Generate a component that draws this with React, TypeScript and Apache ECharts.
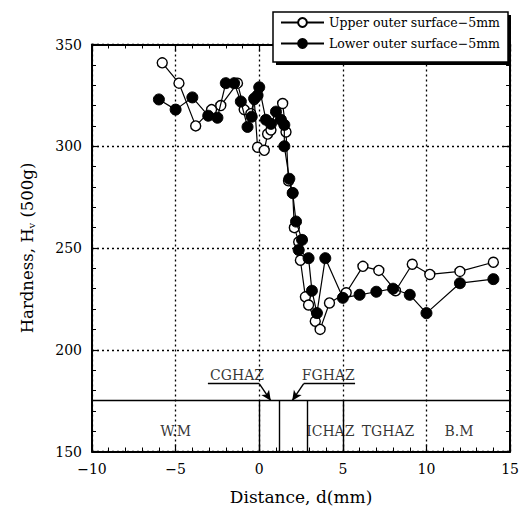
import React, { useEffect, useRef } from "react";
import * as echarts from "echarts";

// Upper outer surface - 5mm (open circles)
const upperDistance = [-5.8, -4.8, -3.8, -2.85, -2.3, -1.3, -0.9, -0.5, -0.3, -0.1, 0.3, 0.5, 0.7, 1.4, 1.6, 1.75, 2.0, 2.1, 2.36, 2.46, 2.76, 2.95, 3.35, 3.64, 4.2, 5.2, 6.2, 7.15, 8.15, 9.15, 10.2, 12.0, 14.0];
const upperHardness = [341, 331, 310, 318, 320, 331, 318, 316, 323, 299.5, 298, 306, 308, 321, 307, 283, 277, 260, 253, 244, 226, 222, 214, 210, 223, 228, 241, 239, 229, 242, 237, 238.5, 243];

// Lower outer surface - 5mm (filled circles)
const lowerDistance = [-6.0, -5.0, -4.0, -3.05, -2.5, -2.0, -1.5, -1.1, -0.7, -0.45, -0.3, -0.1, 0.0, 0.4, 0.7, 1.0, 1.3, 1.5, 1.5, 1.8, 2.0, 2.2, 2.56, 2.36, 2.95, 3.15, 3.45, 3.95, 5.0, 6.0, 7.0, 8.0, 9.0, 10.0, 12.0, 14.0];
const lowerHardness = [323, 318, 324, 315, 314, 331, 331, 322, 309.5, 314.5, 323.5, 325, 329, 313, 311, 317, 313, 310.5, 300, 284, 277, 263, 254, 249, 245, 229, 218, 245, 225.5, 227, 228.5, 230, 227, 218, 232.7, 234.7];

// Zone annotations (weld regions)
const zoneLevel = 175;
const zoneBoundaries = [0, 1.2, 2.9, 5];
const zoneNames = ["W.M", "ICHAZ", "TGHAZ", "B.M"];
const zoneLabelX = [-5, 4.25, 7.7, 11.95];
const zoneLabelY = 160.3;

const calloutNames = ["CGHAZ", "FGHAZ"];
const calloutTextX = [-1.33, 4.13];
const calloutTextY = 187.8;
const calloutLineY = 183.4;
const calloutLineStart = [-3.07, 5.73];
const calloutLineEnd = [0, 2.66];
const calloutArrowTip = [0.69, 1.97];

const legendNames = ["Upper outer surface\u22125mm", "Lower outer surface\u22125mm"];

const FONT = "DejaVu Serif";

export default function App() {
  const ref = useRef<HTMLDivElement>(null);

  useEffect(() => {
    const chart = echarts.init(ref.current!, null, { renderer: "svg" });

    const zip = (xs: number[], ys: number[]) => xs.map((x, i) => [x, ys[i]]);
    const minusFmt = (v: number) => String(v).replace("-", "\u2212");

    const markLines: any[] = [
      [{ coord: [-10, zoneLevel] }, { coord: [15, zoneLevel] }],
      ...zoneBoundaries.map((b) => [{ coord: [b, 150] }, { coord: [b, zoneLevel] }]),
    ];
    calloutNames.forEach((_, i) => {
      markLines.push([
        { coord: [calloutLineStart[i], calloutLineY] },
        { coord: [calloutLineEnd[i], calloutLineY] },
      ]);
      markLines.push([
        { coord: [calloutLineEnd[i], calloutLineY], symbol: "none" },
        { coord: [calloutArrowTip[i], zoneLevel], symbol: "arrow", symbolSize: [7, 10] },
      ]);
    });

    const axisCommon = {
      min: -10,
      max: 15,
      interval: 5,
    };

    const option: any = {
      animation: false,
      backgroundColor: "#fff",
      grid: { left: 92, right: 6, top: 44.5, bottom: 64.5, containLabel: false },
      graphic: [
        {
          type: "rect",
          z: 18,
          shape: { x: 276, y: 15, width: 235, height: 50 },
          style: { fill: "#000" },
        },
        {
          type: "rect",
          z: 19,
          shape: { x: 273, y: 12, width: 235, height: 50 },
          style: { fill: "#fff", stroke: "#000", lineWidth: 1.5 },
        },
      ],
      legend: {
        orient: "vertical",
        left: 280,
        top: 16,
        z: 20,
        padding: 0,
        itemGap: 8,
        itemWidth: 43,
        itemHeight: 11,
        textStyle: { fontFamily: FONT, fontSize: 12.5, color: "#000" },
        data: legendNames,
      },
      xAxis: [
        {
          type: "value",
          ...axisCommon,
          position: "bottom",
          name: "Distance, d(mm)",
          nameLocation: "middle",
          nameGap: 37,
          nameTextStyle: { fontFamily: FONT, fontSize: 17, color: "#000" },
          axisLine: { show: true, onZero: false, lineStyle: { color: "#000", width: 2 } },
          axisTick: { show: true, inside: true, length: 7, lineStyle: { color: "#000", width: 1.2 } },
          minorTick: { show: true, splitNumber: 5, length: 4, lineStyle: { color: "#000", width: 1 } },
          axisLabel: {
            fontFamily: FONT,
            fontSize: 14,
            color: "#000",
            margin: 10,
            formatter: minusFmt,
          },
          splitLine: { show: true, lineStyle: { color: "#000", width: 1.3, type: [2, 3] } },
        },
        {
          type: "value",
          ...axisCommon,
          position: "top",
          axisLine: { show: true, onZero: false, lineStyle: { color: "#000", width: 2 } },
          axisTick: { show: true, inside: true, length: 7, lineStyle: { color: "#000", width: 1.2 } },
          minorTick: { show: true, splitNumber: 5, length: 4, lineStyle: { color: "#000", width: 1 } },
          axisLabel: { show: false },
          splitLine: { show: false },
        },
      ],
      yAxis: [
        {
          type: "value",
          min: 150,
          max: 350,
          interval: 50,
          position: "left",
          name: "Hardness, H{v|v} (500g)",
          nameLocation: "middle",
          nameGap: 56,
          nameRotate: 90,
          nameTextStyle: {
            fontFamily: FONT,
            fontSize: 16.5,
            color: "#000",
            rich: { v: { fontFamily: FONT, fontSize: 10, color: "#000", verticalAlign: "bottom", padding: [8, 0, 0, 0] } },
          },
          axisLine: { show: true, onZero: false, lineStyle: { color: "#000", width: 2 } },
          axisTick: { show: true, inside: true, length: 7, lineStyle: { color: "#000", width: 1.2 } },
          minorTick: { show: true, splitNumber: 5, length: 4, lineStyle: { color: "#000", width: 1 } },
          axisLabel: { fontFamily: FONT, fontSize: 14, color: "#000", margin: 10 },
          splitLine: { show: true, lineStyle: { color: "#000", width: 1.3, type: [2, 3] } },
        },
        {
          type: "value",
          min: 150,
          max: 350,
          interval: 50,
          position: "right",
          axisLine: { show: true, onZero: false, lineStyle: { color: "#000", width: 2 } },
          axisTick: { show: true, inside: true, length: 7, lineStyle: { color: "#000", width: 1.2 } },
          minorTick: { show: true, splitNumber: 5, length: 4, lineStyle: { color: "#000", width: 1 } },
          axisLabel: { show: false },
          splitLine: { show: false },
        },
      ],
      series: [
        {
          name: "zones",
          type: "scatter",
          xAxisIndex: 0,
          yAxisIndex: 0,
          symbolSize: 0,
          silent: true,
          data: [
            ...zoneNames.map((n, i) => ({ name: n, value: [zoneLabelX[i], zoneLabelY] })),
            ...calloutNames.map((n, i) => ({ name: n, value: [calloutTextX[i], calloutTextY] })),
          ],
          label: {
            show: true,
            position: "inside",
            formatter: "{b}",
            fontFamily: FONT,
            fontSize: 14,
            color: "#000",
          },
          markLine: {
            silent: true,
            symbol: "none",
            animation: false,
            label: { show: false },
            lineStyle: { color: "#000", width: 1.4, type: "solid" },
            data: markLines,
          },
          z: 3,
        },
        {
          name: legendNames[0],
          type: "line",
          xAxisIndex: 0,
          yAxisIndex: 0,
          data: zip(upperDistance, upperHardness),
          symbol: "circle",
          symbolSize: 10,
          itemStyle: { color: "#fff", borderColor: "#000", borderWidth: 1.4 },
          lineStyle: { color: "#000", width: 1.2 },
          z: 4,
        },
        {
          name: legendNames[1],
          type: "line",
          xAxisIndex: 0,
          yAxisIndex: 0,
          data: zip(lowerDistance, lowerHardness),
          symbol: "circle",
          symbolSize: 11,
          itemStyle: { color: "#000", borderColor: "#000", borderWidth: 1 },
          lineStyle: { color: "#000", width: 1.2 },
          z: 5,
        },
      ],
    };

    chart.setOption(option);
    return () => chart.dispose();
  }, []);

  return <div ref={ref} style={{ position: "fixed", left: 0, top: 0, width: 522, height: 516 }} />;
}
